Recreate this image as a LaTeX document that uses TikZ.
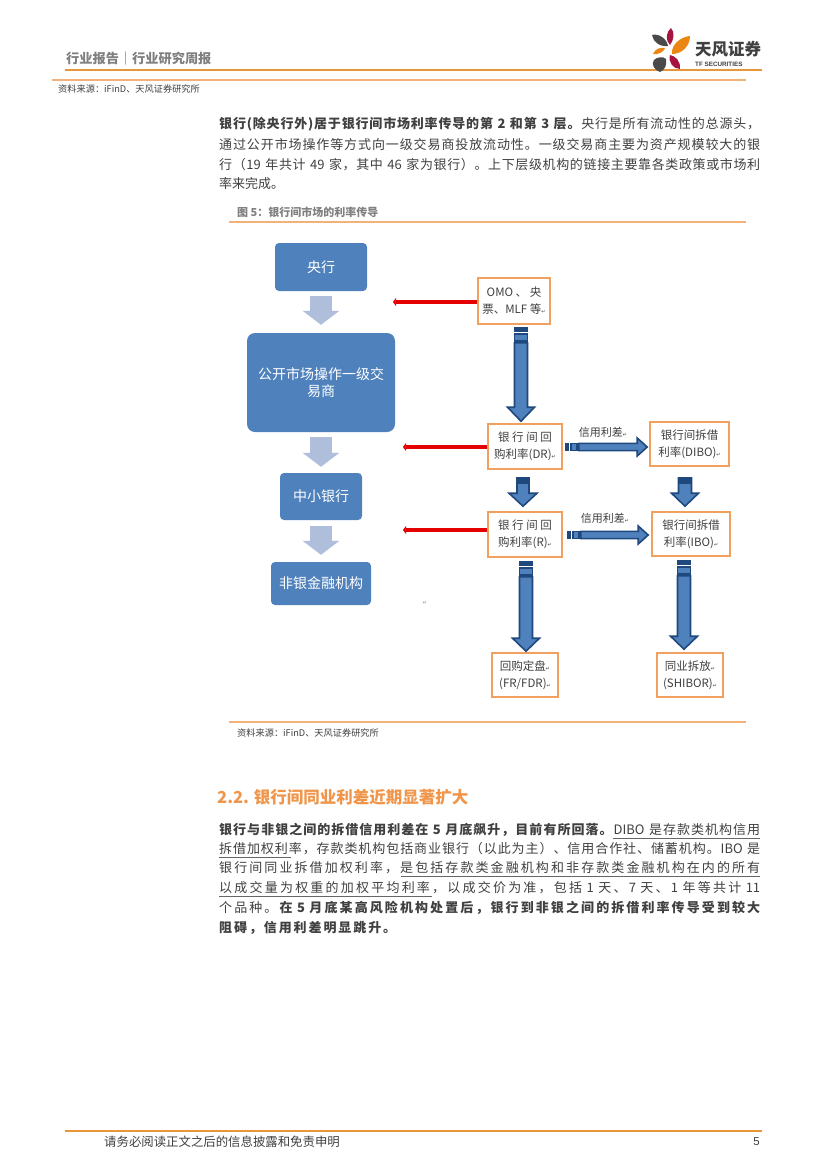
\documentclass[tikz,border=0pt]{standalone}
\usepackage{fontspec}
\usetikzlibrary{arrows.meta,calc}
\setmainfont{Noto Sans CJK SC}
\newfontfamily\symfont{DejaVu Sans}
\newfontfamily\latinfont{Liberation Sans}
\newXeTeXintercharclass\cjkclass
\newcount\ccnt
\ccnt="3000
\loop\ifnum\ccnt<"A000 \XeTeXcharclass\ccnt=\cjkclass \advance\ccnt by 1 \repeat
\ccnt="FF00
\loop\ifnum\ccnt<"FFF0 \XeTeXcharclass\ccnt=\cjkclass \advance\ccnt by 1 \repeat
\XeTeXinterchartoks\cjkclass\cjkclass={\hskip 0pt plus 1fil\relax}
\XeTeXinterchartoks\cjkclass 0={\hskip 0pt plus 1fil\relax}
\XeTeXinterchartoks 0 \cjkclass={\hskip 0pt plus 1fil\relax}
\newcommand\jline[2]{\hbox to #1{\spaceskip=4.5pt\relax\XeTeXinterchartokenstate=1 #2}}
\definecolor{txt}{HTML}{404040}
\definecolor{orangerule}{HTML}{E8963A}
\definecolor{lightrule}{HTML}{F0B27A}
\definecolor{boxorange}{HTML}{F2A05E}
\definecolor{nodeblue}{HTML}{4F81BD}
\definecolor{lightarrow}{HTML}{AEBEDB}
\definecolor{darkblue}{HTML}{1F497D}
\definecolor{headorange}{HTML}{F0954A}
\definecolor{logodark}{HTML}{4A4A4A}
\definecolor{logored}{HTML}{A5153F}
\definecolor{logoorange}{HTML}{EC8612}
\newcommand\retmark{{\symfont\fontsize{5}{5}\selectfont ↵}}
\tikzset{
  bodyline/.style={anchor=west,inner sep=0pt,text=txt,font=\fontsize{13}{15}\selectfont},
  bluebox/.style={fill=nodeblue,rounded corners=#1,text=white,inner sep=0pt,align=center,
    font=\fontsize{14}{17}\selectfont},
  ratebox/.style={draw=boxorange,line width=1.6pt,fill=white,inner sep=0pt,align=center,text=txt,
    font=\fontsize{11.5}{17}\selectfont},
  lightflow/.style={draw=lightarrow,line width=22pt,-{Triangle[length=14pt,width=36pt,color=lightarrow]}},
  redflow/.style={draw=red!90!black,line width=4.5pt,-{Triangle[length=3pt,width=8pt]}},
  blockline/.style={draw=darkblue,fill=nodeblue,line width=1.6pt,line join=miter},
  smalltext/.style={anchor=west,inner sep=0pt,text=txt,font=\fontsize{9.2}{11}\selectfont},
  rule/.style={line width=#1},
}
% block arrows: #1 start coordinate, #2 tip coordinate
\newcommand\downarrowblock[5]{% #3 half shaft, #4 half head, #5 head length
  \path[blockline] ($(#1)+(-#3,16)$) -- ($(#2)+(-#3,-#5)$) -- ($(#2)+(-#4,-#5)$) -- (#2)
    -- ($(#2)+(#4,-#5)$) -- ($(#2)+(#3,-#5)$) -- ($(#1)+(#3,16)$) -- cycle;
  \fill[darkblue] ($(#1)+(-#3-.8,0)$) rectangle ($(#1)+(#3+.8,5)$);
  \path[blockline] ($(#1)+(-#3,7)$) rectangle ($(#1)+(#3,14)$);
}
\newcommand\downshort[5]{%
  \path[blockline] ($(#1)+(-#3,0)$) -- ($(#2)+(-#3,-#5)$) -- ($(#2)+(-#4,-#5)$) -- (#2)
    -- ($(#2)+(#4,-#5)$) -- ($(#2)+(#3,-#5)$) -- ($(#1)+(#3,0)$) -- cycle;
  \fill[darkblue] ($(#1)+(-#3-.8,0)$) rectangle ($(#1)+(#3+.8,6)$);
}
\newcommand\rightblock[2]{%
  \path[blockline] ($(#1)+(14,-3.6)$) -- ($(#2)+(-10,-3.6)$) -- ($(#2)+(-10,-9)$) -- (#2)
    -- ($(#2)+(-10,9)$) -- ($(#2)+(-10,3.6)$) -- ($(#1)+(14,3.6)$) -- cycle;
  \fill[darkblue] ($(#1)+(0,-4.4)$) rectangle ($(#1)+(4,4.4)$);
  \path[blockline] ($(#1)+(6,-3.6)$) rectangle ($(#1)+(12,3.6)$);
}
\begin{document}
\begin{tikzpicture}[x=1pt,y=-1pt]
\useasboundingbox[fill=white] (0,0) rectangle (827,1170);

% header
\node[anchor=west,inner sep=0pt,text=gray,font=\fontsize{13.2}{15}\bfseries\selectfont] (hd) at (66,58) {行业报告｜行业研究周报};
\draw[orangerule,rule=2pt] (65,70) -- (762,70);
\draw[lightrule,rule=1.5pt] (52,80) -- (746,80);
\node[smalltext] (src1) at (58,89) {资料来源：iFinD、天风证券研究所};

% logo
\fill[logodark] (652,35) .. controls (659,33) and (667,39) .. (668,46) .. controls (660,47) and (653,42) .. (652,35) -- cycle;
\fill[logored] (671,28) .. controls (675,32) and (674,40) .. (670,45) .. controls (665,40) and (666,32) .. (671,28) -- cycle;
\fill[logoorange] (672,54) .. controls (671,45) and (680,37) .. (690,36) .. controls (690,46) and (682,54) .. (672,54) -- cycle;
\fill[logoorange] (653,54) .. controls (655,49) and (660,47) .. (665,48) .. controls (664,52) and (658,55) .. (653,54) -- cycle;
\fill[logodark] (660,72) .. controls (654,70) and (651,64) .. (654,60) .. controls (657,57) and (663,56) .. (666,59) .. controls (667,65) and (665,70) .. (660,72) -- cycle;
\fill[logored] (670,55) .. controls (676,56) and (681,62) .. (680,69) .. controls (673,69) and (668,62) .. (670,55) -- cycle;
\node[anchor=west,inner sep=0pt,text=black!75,font=\fontsize{16.5}{18}\bfseries\selectfont] (logoa) at (695,49.5) {天风证券};
\node[anchor=west,inner sep=0pt,text=black!75,font=\latinfont\fontsize{6.3}{8}\bfseries\selectfont] (logob) at (695,64) {TF SECURITIES};

% paragraph one
\node[bodyline] (p1a) at (219,124) {\jline{541pt}{\textbf{银行(除央行外)居于银行间市场利率传导的第 2 和第 3 层。}\hfil 央行是所有流动性的总源头，}};
\node[bodyline] (p1b) at (219,145) {\jline{541pt}{通过公开市场操作等方式向一级交易商投放流动性。一级交易商主要为资产规模较大的银}};
\node[bodyline] (p1c) at (219,165) {\jline{541pt}{行（19 年共计 49 家，其中 46 家为银行）。上下层级机构的链接主要靠各类政策或市场利}};
\node[bodyline] (p1d) at (219,184) {率来完成。};

% figure frame
\node[anchor=west,inner sep=0pt,text=gray,font=\fontsize{11}{13}\bfseries\selectfont] (figt) at (237,212) {图 5：银行间市场的利率传导};
\draw[lightrule,rule=1.5pt] (229,222) -- (746,222);
\draw[lightrule,rule=1.5pt] (229,722) -- (746,722);
\node[smalltext] (src2) at (237,733) {资料来源：iFinD、天风证券研究所};

% left column
\node[bluebox=4pt,minimum width=92pt,minimum height=48pt] (cb) at (321,267) {央行};
\node[bluebox=8pt,minimum width=148pt,minimum height=99pt] (pd) at (321,382.5) {公开市场操作一级交\\易商};
\node[bluebox=4pt,minimum width=82pt,minimum height=47pt] (sb) at (321,496.5) {中小银行};
\node[bluebox=4pt,minimum width=100pt,minimum height=43pt] (nb) at (321,583.5) {非银金融机构};
\draw[lightflow,shorten <=5pt,shorten >=8pt] (cb.south) -- (pd.north);
\draw[lightflow,shorten <=5pt,shorten >=6pt] (pd.south) -- (sb.north);
\draw[lightflow,shorten <=6pt,shorten >=7pt] (sb.south) -- (nb.north);
\node[inner sep=0pt,text=gray] (stray) at (425,603) {\retmark};

% right boxes
\node[ratebox,minimum width=72pt,minimum height=46pt] (omo) at (514,301) {OMO 、 央\\票、MLF 等\retmark};
\node[ratebox,minimum width=74pt,minimum height=45pt] (dr) at (525,446.5) {银 行 间 回\\购利率(DR)\retmark};
\node[ratebox,minimum width=79pt,minimum height=44pt] (dibo) at (689.5,444) {银行间拆借\\利率(DIBO)\retmark};
\node[ratebox,minimum width=74pt,minimum height=45pt] (rr) at (525,534.5) {银 行 间 回\\购利率(R)\retmark};
\node[ratebox,minimum width=78pt,minimum height=44pt] (ibo) at (691,534) {银行间拆借\\利率(IBO)\retmark};
\node[ratebox,minimum width=66pt,minimum height=44pt] (fr) at (525,675) {回购定盘\retmark\\(FR/FDR)\retmark};
\node[ratebox,minimum width=66pt,minimum height=44pt] (shibor) at (690,675) {同业拆放\retmark\\(SHIBOR)\retmark};

% red arrows
\coordinate (ra) at (393,302);
\coordinate (rb) at (403,447);
\coordinate (rc) at (403,530);
\draw[redflow] (omo.west |- ra) -- (ra);
\draw[redflow] (dr.west |- rb) -- (rb);
\draw[redflow] (rr.west |- rc) -- (rc);

% blue arrows
\coordinate (a1s) at ($(omo.south)+(7,2)$);
\coordinate (a1t) at ($(dr.north)+(-4,-2)$);
\downarrowblock{a1s}{a1t}{6.5}{13.5}{14}
\coordinate (a2s) at ($(dr.south)+(-2,8)$);
\coordinate (a2t) at ($(rr.north)+(-2,-5)$);
\downshort{a2s}{a2t}{6}{14}{13}
\coordinate (a3s) at ($(dibo.south)+(-4.5,11)$);
\coordinate (a3t) at ($(ibo.north)+(-6,-5)$);
\downshort{a3s}{a3t}{6.5}{13.5}{13}
\coordinate (a4s) at ($(rr.south)+(1,3)$);
\coordinate (a4t) at ($(fr.north)+(1,-1)$);
\downarrowblock{a4s}{a4t}{6.5}{13.5}{13}
\coordinate (a5s) at ($(ibo.south)+(-7,3)$);
\coordinate (a5t) at ($(shibor.north)+(-6,-3)$);
\downarrowblock{a5s}{a5t}{6.5}{13.5}{13}
\coordinate (h1s) at ($(dr.east |- 0,447)+(2,0)$);
\coordinate (h1t) at ($(dibo.west |- 0,447)+(-2,0)$);
\rightblock{h1s}{h1t}
\coordinate (h2s) at ($(rr.east |- 0,535)+(4,0)$);
\coordinate (h2t) at ($(ibo.west |- 0,535)+(-3,0)$);
\rightblock{h2s}{h2t}
\node[inner sep=0pt,text=txt,font=\fontsize{11}{13}\selectfont] (l1) at (603,432) {信用利差\retmark};
\node[inner sep=0pt,text=txt,font=\fontsize{11}{13}\selectfont] (l2) at (605,518) {信用利差\retmark};

% section heading
\node[anchor=west,inner sep=0pt,text=headorange,font=\fontsize{16.5}{19}\bfseries\selectfont] (sec) at (217,797) {2.2. 银行间同业利差近期显著扩大};

% paragraph two
\node[bodyline] (p2a) at (219,830) {\jline{541pt}{\textbf{银行与非银之间的拆借信用利差在 5 月底飙升，目前有所回落。}\hfil DIBO 是存款类机构信用}};
\node[bodyline] (p2b) at (219,849) {\jline{541pt}{拆借加权利率，存款类机构包括商业银行（以此为主）、信用合作社、储蓄机构。IBO 是}};
\node[bodyline] (p2c) at (219,868) {\jline{541pt}{银行间同业拆借加权利率，是包括存款类金融机构和非存款类金融机构在内的所有}};
\node[bodyline] (p2d) at (219,888) {\jline{541pt}{以成交量为权重的加权平均利率，以成交价为准，包括 1 天、7 天、1 年等共计 11}};
\node[bodyline] (p2e) at (219,908) {\jline{541pt}{个品种。\hfil\textbf{在 5 月底某高风险机构处置后，银行到非银之间的拆借利率传导受到较大}}};
\node[bodyline] (p2f) at (219,928) {\jline{177pt}{\textbf{阻碍，信用利差明显跳升。}}};
\draw[black!60,rule=.6pt] (613,838.5) -- (760,838.5);
\draw[black!60,rule=.6pt] (219,857.5) -- (291,857.5);
\draw[black!60,rule=.6pt] (401,876.5) -- (760,876.5);
\draw[black!60,rule=.6pt] (219,896.5) -- (432,896.5);

% footer
\draw[orangerule,rule=2pt] (65,1131) -- (762,1131);
\node[anchor=west,inner sep=0pt,text=txt,font=\fontsize{12.4}{14}\selectfont] (ft) at (104,1142) {请务必阅读正文之后的信息披露和免责申明};
\node[anchor=east,inner sep=0pt,text=txt,font=\latinfont\fontsize{11.5}{13}\selectfont] (pg) at (760,1142) {5};
\end{tikzpicture}
\end{document}
